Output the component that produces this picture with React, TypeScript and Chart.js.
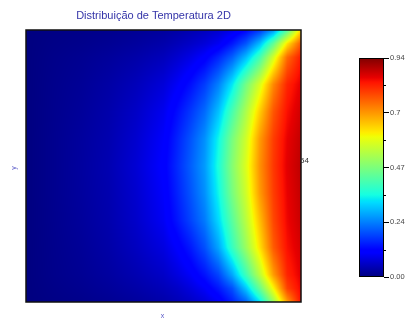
import React, { useEffect, useRef } from "react";
import { Chart, registerables } from "chart.js";

Chart.register(...registerables);

const chartTitle = "Distribuição de Temperatura 2D";
const xAxisLabel = "x";
const yAxisLabel = "y";
const sideNote = "54";

// sample positions (x: left to right, y: top to bottom)
const xCenters = [0, 0.1, 0.2, 0.3, 0.4, 0.5, 0.55, 0.6, 0.65, 0.7, 0.75, 0.8, 0.85, 0.9, 0.95, 1.0];
const yCenters = [1.0, 0.95, 0.9, 0.8, 0.7, 0.6, 0.5, 0.4, 0.3, 0.2, 0.1, 0.05, 0.0];

// temperature values, rows from top to bottom
const rowY100 = [0, 0.004, 0.007, 0.011, 0.017, 0.024, 0.031, 0.04, 0.05, 0.064, 0.085, 0.118, 0.165, 0.25, 0.42, 0.64];
const rowY095 = [0, 0.006, 0.01, 0.016, 0.024, 0.035, 0.046, 0.058, 0.072, 0.094, 0.138, 0.195, 0.29, 0.44, 0.63, 0.77];
const rowY090 = [0, 0.008, 0.014, 0.022, 0.033, 0.048, 0.064, 0.083, 0.108, 0.15, 0.205, 0.29, 0.405, 0.57, 0.75, 0.83];
const rowY080 = [0, 0.01, 0.018, 0.03, 0.047, 0.072, 0.098, 0.13, 0.172, 0.235, 0.33, 0.46, 0.575, 0.72, 0.82, 0.86];
const rowY070 = [0, 0.011, 0.021, 0.035, 0.057, 0.09, 0.127, 0.168, 0.215, 0.295, 0.41, 0.525, 0.65, 0.77, 0.84, 0.875];
const rowY060 = [0, 0.012, 0.024, 0.038, 0.064, 0.102, 0.147, 0.195, 0.25, 0.345, 0.465, 0.565, 0.7, 0.795, 0.855, 0.885];
const rowY050 = [0, 0.012, 0.025, 0.04, 0.068, 0.108, 0.155, 0.205, 0.26, 0.36, 0.48, 0.58, 0.71, 0.8, 0.86, 0.89];
const rowY040 = [0, 0.012, 0.024, 0.038, 0.064, 0.102, 0.147, 0.195, 0.25, 0.345, 0.465, 0.565, 0.7, 0.795, 0.855, 0.885];
const rowY030 = [0, 0.011, 0.022, 0.036, 0.06, 0.095, 0.135, 0.18, 0.23, 0.318, 0.43, 0.54, 0.665, 0.785, 0.85, 0.88];
const rowY020 = [0, 0.01, 0.019, 0.032, 0.052, 0.078, 0.105, 0.14, 0.19, 0.27, 0.39, 0.505, 0.63, 0.765, 0.84, 0.87];
const rowY010 = [0, 0.009, 0.016, 0.026, 0.04, 0.058, 0.077, 0.1, 0.133, 0.18, 0.27, 0.4, 0.54, 0.7, 0.82, 0.86];
const rowY005 = [0, 0.007, 0.013, 0.021, 0.032, 0.046, 0.058, 0.077, 0.1, 0.137, 0.19, 0.3, 0.445, 0.61, 0.79, 0.85];
const rowY000 = [0, 0.005, 0.009, 0.015, 0.023, 0.034, 0.044, 0.056, 0.072, 0.097, 0.145, 0.205, 0.325, 0.505, 0.7, 0.84];
const temperature = [
  rowY100, rowY095, rowY090, rowY080, rowY070, rowY060, rowY050,
  rowY040, rowY030, rowY020, rowY010, rowY005, rowY000,
];

const tMin = 0;
const tMax = 0.94;
const colorbarTicks = [0, 0.235, 0.47, 0.705, 0.94];
const colorbarTickLabels = ["0.00", "0.24", "0.47", "0.7", "0.94"];
const colorbarMinorTicks = [0.1175, 0.3525, 0.5875, 0.8225];

// jet colormap nodes
const jetR = { p: [0, 0.35, 0.66, 0.89, 1], v: [0, 0, 1, 1, 0.5] };
const jetG = { p: [0, 0.125, 0.375, 0.64, 0.91, 1], v: [0, 0, 1, 1, 0, 0] };
const jetB = { p: [0, 0.11, 0.34, 0.65, 1], v: [0.5, 1, 1, 0, 0] };

function lin(t: number, ch: { p: number[]; v: number[] }) {
  const { p, v } = ch;
  if (t <= p[0]) return v[0];
  for (let k = 1; k < p.length; k++) {
    if (t <= p[k]) {
      const f = (t - p[k - 1]) / (p[k] - p[k - 1]);
      return v[k - 1] + f * (v[k] - v[k - 1]);
    }
  }
  return v[v.length - 1];
}

function jet(t: number): [number, number, number] {
  const c = Math.max(0, Math.min(1, t));
  return [
    Math.round(255 * lin(c, jetR)),
    Math.round(255 * lin(c, jetG)),
    Math.round(255 * lin(c, jetB)),
  ];
}

function locate(arr: number[], v: number): [number, number] {
  const asc = arr[arr.length - 1] > arr[0];
  const n = arr.length;
  for (let k = 0; k < n - 1; k++) {
    const a = arr[k], b = arr[k + 1];
    const inside = asc ? v >= a && v <= b : v <= a && v >= b;
    if (inside) return [k, (v - a) / (b - a)];
  }
  const beforeFirst = asc ? v < arr[0] : v > arr[0];
  return beforeFirst ? [0, 0] : [n - 2, 1];
}

function sample(xv: number, yv: number) {
  const [i, fx] = locate(xCenters, xv);
  const [j, fy] = locate(yCenters, yv);
  const a = temperature[j][i], b = temperature[j][i + 1];
  const c = temperature[j + 1][i], d = temperature[j + 1][i + 1];
  return (a * (1 - fx) + b * fx) * (1 - fy) + (c * (1 - fx) + d * fx) * fy;
}

const heatPlugin = {
  id: "heat",
  beforeDatasetsDraw(chart: any) {
    const { ctx, scales } = chart;
    const xs = scales.x, ys = scales.y;
    const x0 = Math.round(xs.getPixelForValue(0));
    const x1 = Math.round(xs.getPixelForValue(1));
    const y0 = Math.round(ys.getPixelForValue(1));
    const y1 = Math.round(ys.getPixelForValue(0));
    const w = x1 - x0, h = y1 - y0;
    const off = document.createElement("canvas");
    off.width = w;
    off.height = h;
    const octx = off.getContext("2d")!;
    const img = octx.createImageData(w, h);
    for (let py = 0; py < h; py++) {
      const yv = ys.getValueForPixel(y0 + py + 0.5);
      for (let px = 0; px < w; px++) {
        const xv = xs.getValueForPixel(x0 + px + 0.5);
        const val = sample(xv, yv);
        const [r, g, b] = jet((val - tMin) / (tMax - tMin));
        const o = (py * w + px) * 4;
        img.data[o] = r;
        img.data[o + 1] = g;
        img.data[o + 2] = b;
        img.data[o + 3] = 255;
      }
    }
    octx.putImageData(img, 0, 0);
    ctx.save();
    ctx.drawImage(off, x0, y0);
    ctx.strokeStyle = "#111";
    ctx.lineWidth = 1.5;
    ctx.strokeRect(x0, y0, w, h);
    ctx.restore();
  },
  afterDraw(chart: any) {
    const { ctx, chartArea } = chart;
    const { left, right, top, bottom } = chartArea;
    ctx.save();
    ctx.fillStyle = "#3434a8";
    ctx.font = "11px 'Liberation Sans', Arial, sans-serif";
    ctx.textAlign = "center";
    ctx.textBaseline = "alphabetic";
    ctx.fillText(chartTitle, (left + right) / 2 - 10, top - 11);
    ctx.fillStyle = "#5a5ac8";
    ctx.font = "7px 'Liberation Sans', Arial, sans-serif";
    ctx.fillText(xAxisLabel, (left + right) / 2 - 1, bottom + 16);
    ctx.save();
    ctx.translate(left - 10, (top + bottom) / 2 + 2);
    ctx.rotate(-Math.PI / 2);
    ctx.fillText(yAxisLabel, 0, 0);
    ctx.restore();
    ctx.fillStyle = "#333";
    ctx.font = "8px 'Liberation Sans', Arial, sans-serif";
    ctx.textAlign = "left";
    ctx.fillText(sideNote, right - 1, (top + bottom) / 2 - 3);
    ctx.restore();
  },
};

const colorbarPlugin = {
  id: "colorbar",
  beforeDatasetsDraw(chart: any) {
    const { ctx, chartArea, scales } = chart;
    const ys = scales.y;
    const { left, right } = chartArea;
    const yTop = ys.getPixelForValue(tMax);
    const yBot = ys.getPixelForValue(tMin);
    const grad = ctx.createLinearGradient(0, yBot, 0, yTop);
    const nodes = Array.from(new Set([...jetR.p, ...jetG.p, ...jetB.p])).sort((a, b) => a - b);
    nodes.forEach((t) => {
      const [r, g, b] = jet(t);
      grad.addColorStop(t, `rgb(${r},${g},${b})`);
    });
    ctx.save();
    ctx.fillStyle = grad;
    ctx.fillRect(left, yTop, right - left, yBot - yTop);
    ctx.strokeStyle = "#000";
    ctx.lineWidth = 1;
    ctx.strokeRect(left + 0.5, yTop + 0.5, right - left - 1, yBot - yTop - 1);
    ctx.beginPath();
    colorbarMinorTicks.forEach((v) => {
      const py = Math.round(ys.getPixelForValue(v)) + 0.5;
      ctx.moveTo(right, py);
      ctx.lineTo(right + 2, py);
    });
    ctx.stroke();
    ctx.restore();
  },
};

export default function App() {
  const mainRef = useRef<HTMLCanvasElement | null>(null);
  const barRef = useRef<HTMLCanvasElement | null>(null);

  useEffect(() => {
    document.body.style.margin = "0";
    const main = new Chart(mainRef.current!, {
      type: "scatter",
      data: { datasets: [{ data: [] }] },
      options: {
        animation: false,
        responsive: false,
        events: [],
        layout: { padding: { left: 26, top: 30, right: 105, bottom: 18 } },
        scales: {
          x: { type: "linear", min: 0, max: 1, display: false },
          y: { type: "linear", min: 0, max: 1, display: false },
        },
        plugins: { legend: { display: false }, tooltip: { enabled: false } },
      },
      plugins: [heatPlugin],
    });
    const bar = new Chart(barRef.current!, {
      type: "scatter",
      data: { datasets: [{ data: [] }] },
      options: {
        animation: false,
        responsive: false,
        events: [],
        layout: { padding: { left: 359, top: 58, right: 0, bottom: 43 } },
        scales: {
          x: { type: "linear", min: 0, max: 1, display: false },
          y: {
            type: "linear",
            position: "right",
            min: tMin,
            max: tMax,
            afterBuildTicks: (s: any) => {
              s.ticks = colorbarTicks.map((v) => ({ value: v }));
            },
            afterFit: (s: any) => {
              s.width = 22;
            },
            ticks: {
              padding: 1,
              color: "#444",
              font: { size: 7.5, family: "'Liberation Sans', Arial, sans-serif" },
              callback: (_v: any, idx: number) => colorbarTickLabels[idx],
            },
            grid: { drawOnChartArea: false, tickLength: 5, color: "#000", tickColor: "#000" },
            border: { display: false },
          },
        },
        plugins: { legend: { display: false }, tooltip: { enabled: false } },
      },
      plugins: [colorbarPlugin],
    });
    return () => {
      main.destroy();
      bar.destroy();
    };
  }, []);

  return (
    <div style={{ position: "relative", width: 406, height: 320 }}>
      <canvas ref={mainRef} width={406} height={320} style={{ position: "absolute", left: 0, top: 0 }} />
      <canvas ref={barRef} width={406} height={320} style={{ position: "absolute", left: 0, top: 0 }} />
    </div>
  );
}
